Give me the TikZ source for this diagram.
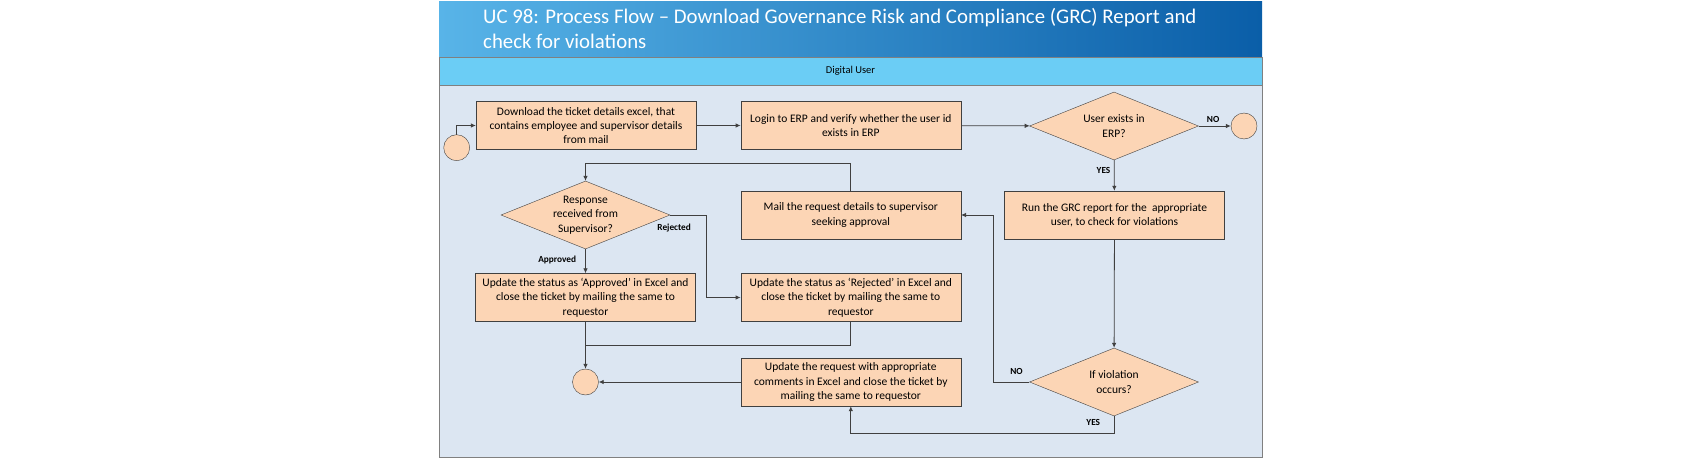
\documentclass[tikz,border=0pt]{standalone}
\usepackage{fontspec}
\setmainfont{Carlito}
\usetikzlibrary{shapes.geometric,arrows.meta,positioning}
\definecolor{peach}{HTML}{FCD5B5}
\definecolor{lanebg}{HTML}{DCE6F2}
\definecolor{lanehead}{HTML}{6BCDF5}
\definecolor{titleL}{HTML}{58B4E8}
\definecolor{titleR}{HTML}{0A5EA8}
\definecolor{linegray}{HTML}{404040}
\definecolor{framegray}{HTML}{808080}

\begin{document}
\begin{tikzpicture}[x=1pt,y=-1pt]
  \tikzset{task/.style = {shape=rectangle,draw=linegray,fill=peach,minimum width=220pt,minimum height=48pt,inner sep=1pt,align=center,font=\fontsize{11.5}{14.3}\selectfont}}
  \tikzset{decision/.style = {shape=diamond,draw=linegray,fill=peach,minimum width=169pt,minimum height=68pt,aspect=2.5,inner sep=-4pt,align=center,font=\fontsize{11.5}{14.3}\selectfont}}
  \tikzset{terminal/.style = {shape=circle,draw=linegray,fill=peach,minimum size=26pt,inner sep=0pt}}
  \tikzset{flow/.style = {draw=linegray,line width=0.8pt,-{Latex[length=5pt,width=4.5pt]}}}
  \tikzset{link/.style = {draw=linegray,line width=0.8pt}}
  \tikzset{lbl/.style = {font=\bfseries\fontsize{9.3}{11}\selectfont,inner sep=1pt}}
  \useasboundingbox (0,0) rectangle (1702,460);

  % title, lane header and lane
  \shade[left color=titleL,right color=titleR] (439,2) rectangle (1262,57);
  \node[anchor=west,text=white,align=left,inner sep=0pt,font=\fontsize{20.8}{25}\selectfont] (title) at (483,28) {UC 98: Process Flow – Download Governance Risk and Compliance (GRC) Report and\\check for violations};
  \draw[framegray,fill=lanehead] (439,57) rectangle (1262,85);
  \draw[framegray,fill=lanebg] (439,85) rectangle (1262,457);
  \node[font=\fontsize{10.5}{12}\selectfont] (lane) at (850.5,71) {Digital User};

  % nodes
	\node[terminal] (start) at (456.7,147.7) {};
	\node[task] (dl) at (586,125.5) {Download the ticket details excel, that\\contains employee and supervisor details\\from mail};
	\node[task] (login) at (850.8,125.5) {Login to ERP and verify whether the user id\\exists in ERP};
	\node[decision] (userq) at (1114,126) {User exists in\\ERP?};
	\node[terminal] (endno) at (1244,126) {};
	
	\node[task] (mail) at (850.8,215) {Mail the request details to supervisor\\seeking approval};
	\node[decision] (resp) at (585.5,215) {Response\\received from\\Supervisor?};
	\node[task] (grc) at (1114.5,215) {Run the GRC report for the \ appropriate\\user, to check for violations};
	
	\node[task] (appr) at (585.5,297.5) {Update the status as `Approved' in Excel and\\close the ticket by mailing the same to\\requestor};
	\node[task] (rej) at (850.8,297.5) {Update the status as `Rejected' in Excel and\\close the ticket by mailing the same to\\requestor};
	
	\node[terminal] (endc) at (585.5,382) {};
	\node[task] (upd) at (850.8,382) {Update the request with appropriate\\comments in Excel and close the ticket by\\mailing the same to requestor};
	\node[decision] (viol) at (1114,382) {If violation\\occurs?};
	\coordinate (merge) at (585.5,345);

  % connectors
	\path[flow] (start) |- (dl);
	\path[flow] (dl) -- (login);
	\path[flow] (login) -- (userq);
	\path[flow] (userq) -- node[lbl,above=2pt,pos=0.45]{NO} (endno);
	\path[flow] (userq) -- node[lbl,left=2.5pt,pos=0.35]{YES} (grc);
	
	\path[flow] (mail.north) -- ++(0,-27.4) -| (resp.north);
	\path[flow] (resp) -- node[lbl,left=8pt,pos=0.45]{Approved} (appr);
	\path[flow] (resp.east) -- node[lbl,below=8pt,pos=0.11]{Rejected} ++(36,0) |- (rej.west);
	
	\path[flow] (appr) -- (endc);
	\path[link] (rej) |- (merge);
	\path[flow] (upd) -- (endc);
	
	\path[flow] (grc) -- (viol);
	\path[flow] (viol.west) -- node[lbl,above=6.5pt,pos=0.36]{NO} ++(-35.7,0) |- (mail.east);
	\path[flow] (viol.south) -- node[lbl,left=12.5pt,pos=0.35]{YES} ++(0,17.3) -| (upd.south);
   
\end{tikzpicture}
\end{document}
